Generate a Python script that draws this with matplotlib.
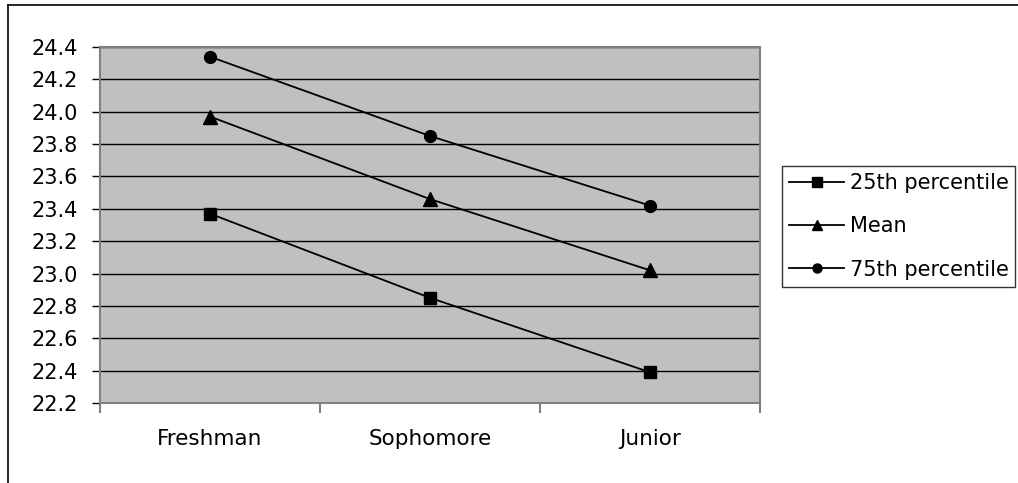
import matplotlib
matplotlib.use("Agg")
import matplotlib.pyplot as plt
from matplotlib.lines import Line2D

plt.rcParams['font.family'] = ['DejaVu Sans']

# Data
classes = ["Freshman", "Sophomore", "Junior"]
p25 = [23.37, 22.85, 22.39]
mean = [23.97, 23.46, 23.02]
p75 = [24.34, 23.85, 23.42]
y_ticks = [22.2, 22.4, 22.6, 22.8, 23.0, 23.2, 23.4, 23.6, 23.8, 24.0, 24.2, 24.4]

W, H = 1018, 483
FS = 15
fig = plt.figure(figsize=(W / 100, H / 100), dpi=100)
fig.patch.set_facecolor("white")

# plot area in pixels: x 100..760, y 47..403
ax = fig.add_axes([100 / W, 1 - 403 / H, 660 / W, 356 / H])
ax.set_facecolor("#c0c0c0")

x = list(range(len(classes)))
style = dict(color="black", linewidth=1.3)
ax.plot(x, p25, marker="s", markersize=9, label="25th percentile", **style)
ax.plot(x, mean, marker="^", markersize=9.5, label="Mean", **style)
ax.plot(x, p75, marker="o", markersize=8.5, label="75th percentile", **style)

ax.set_xlim(-0.5, len(classes) - 0.5)
ax.set_ylim(y_ticks[0], y_ticks[-1])
ax.set_yticks(y_ticks)
ax.set_yticklabels([f"{v:.1f}" for v in y_ticks])
ax.yaxis.grid(True, color="black", linewidth=1.0)
ax.set_axisbelow(True)

# category boundaries as major ticks, labels on minor ticks
ax.set_xticks([i - 0.5 for i in range(len(classes) + 1)])
ax.set_xticklabels([])
ax.set_xticks(x, minor=True)
ax.set_xticklabels(classes, minor=True)
ax.tick_params(axis="x", which="major", length=7, width=1.5, color="#808080")
ax.tick_params(axis="x", which="minor", length=0, pad=19, labelsize=15.5)
ax.tick_params(axis="y", length=6, width=1.0, color="black", pad=10, labelsize=FS)

for s in ax.spines.values():
    s.set_color("#808080")
    s.set_linewidth(1.5)

leg = fig.legend(loc="upper left", bbox_to_anchor=(782 / W, 1 - 166 / H),
                 frameon=True, fancybox=False, fontsize=FS,
                 handlelength=2.65, handletextpad=0.25, labelspacing=1.12,
                 borderpad=0.34, borderaxespad=0)
leg.get_frame().set_edgecolor("black")
leg.get_frame().set_linewidth(1.0)
for h in leg.legend_handles:
    h.set_markersize(6.5)

# outer chart border (cropped at right and bottom)
fig.add_artist(Line2D([8 / W, 8 / W], [0, 1 - 5 / H], color="black", linewidth=1.2))
fig.add_artist(Line2D([8 / W, 1], [1 - 5 / H, 1 - 5 / H], color="black", linewidth=1.2))

fig.savefig("out.png", dpi=100)
